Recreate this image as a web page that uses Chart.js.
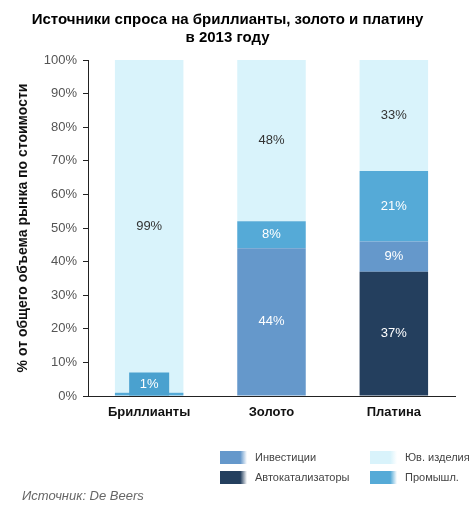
<!DOCTYPE html>
<html>
<head>
<meta charset="utf-8">
<script src="https://cdn.jsdelivr.net/npm/chart.js@4"></script>
<style>
  html, body { margin: 0; padding: 0; background: #fff; }
  #wrap { position: relative; width: 473px; height: 521px; }
  #legend {
    position: absolute; left: 220px; top: 447px;
    display: grid; grid-template-columns: 150px 110px;
    grid-template-rows: 20px 20px; grid-auto-flow: column;
    font: 11px "Liberation Sans", Arial, sans-serif; color: #444;
  }
  #legend div { display: flex; align-items: center; }
  #legend span { display: inline-block; width: 27px; height: 13px; margin-right: 8px; }
  #source {
    position: absolute; left: 22px; top: 488px;
    font: italic 13px "Liberation Sans", Arial, sans-serif; color: #666;
  }
</style>
</head>
<body>
<div id="wrap">
  <canvas id="chart" width="473" height="521"></canvas>
  <div id="legend"></div>
  <div id="source">Источник: De Beers</div>
</div>
<script>
// Данные графика
const categories = ['Бриллианты', 'Золото', 'Платина']
const autocatalysts = [0, 0, 37]
const investment = [0, 44, 9]
const industrial = [1, 8, 21]
const jewelry = [99, 48, 33]
const yTicks = [0, 10, 20, 30, 40, 50, 60, 70, 80, 90, 100]

const colors = {
  auto: '#243f5e',
  invest: '#6598cb',
  industrial: '#55aad7',
  jewelry: '#d9f3fb',
}

const datasets = [
  { label: 'Автокатализаторы', data: autocatalysts, backgroundColor: colors.auto, labelColor: '#fff' },
  { label: 'Инвестиции', data: investment, backgroundColor: colors.invest, labelColor: '#fff' },
  { label: 'Промышл.', data: industrial, backgroundColor: colors.industrial, labelColor: '#fff' },
  { label: 'Юв. изделия', data: jewelry, backgroundColor: colors.jewelry, labelColor: '#333' },
]

// Подписи значений внутри сегментов
const segmentLabels = {
  id: 'segmentLabels',
  afterDatasetsDraw(chart) {
    const ctx = chart.ctx
    ctx.save()
    ctx.font = '13px "Liberation Sans", Arial, sans-serif'
    ctx.textAlign = 'center'
    ctx.textBaseline = 'middle'
    chart.data.datasets.forEach((ds, i) => {
      const meta = chart.getDatasetMeta(i)
      meta.data.forEach((bar, j) => {
        const value = ds.data[j]
        if (!value) return
        const { x, y, base } = bar.getProps(['x', 'y', 'base'], true)
        let cy = (y + base) / 2
        if (base - y < 18) {
          // Маленький сегмент: подпись в отдельной плашке
          ctx.fillStyle = '#4aa1cf'
          ctx.fillRect(x - 20, base - 23, 40, 23)
          cy = base - 11
        }
        ctx.fillStyle = ds.labelColor
        ctx.fillText(value + '%', x, cy)
      })
    })
    ctx.restore()
  },
}

new Chart(document.getElementById('chart'), {
  type: 'bar',
  data: { labels: categories, datasets: datasets },
  options: {
    responsive: false,
    animation: false,
    layout: { padding: { left: 0, right: 18, top: 0, bottom: 0 } },
    datasets: { bar: { barPercentage: 0.56, categoryPercentage: 1 } },
    plugins: {
      legend: { display: false },
      tooltip: { enabled: false },
      title: {
        display: true,
        text: ['Источники спроса на бриллианты, золото и платину', 'в 2013 году'],
        color: '#000',
        font: { family: '"Liberation Sans", Arial, sans-serif', size: 15, weight: 'bold', lineHeight: 1.2 },
        padding: { top: 11, bottom: 13 },
      },
    },
    scales: {
      x: {
        stacked: true,
        grid: { display: false },
        border: { display: true, color: '#222', width: 1 },
        ticks: {
          color: '#111',
          padding: 1,
          font: { family: '"Liberation Sans", Arial, sans-serif', size: 13, weight: 'bold' },
        },
        afterFit(scale) { scale.height = 125 },
      },
      y: {
        stacked: true,
        min: 0,
        max: 100,
        afterBuildTicks(scale) { scale.ticks = yTicks.map((v) => ({ value: v })) },
        grid: { drawOnChartArea: false, drawTicks: true, tickLength: 5, color: '#222' },
        border: { display: true, color: '#222', width: 1 },
        ticks: {
          color: '#555',
          padding: 6,
          font: { family: '"Liberation Sans", Arial, sans-serif', size: 13 },
          callback: (v) => v + '%',
        },
        title: {
          display: true,
          text: '% от общего объема рынка по стоимости',
          color: '#111',
          font: { family: '"Liberation Sans", Arial, sans-serif', size: 14, weight: 'bold' },
          padding: { top: 15, bottom: 0 },
        },
        afterFit(scale) { scale.width = 88 },
      },
    },
  },
  plugins: [segmentLabels],
})

// Легенда в две колонки
const legendOrder = [1, 0, 3, 2]
const legend = document.getElementById('legend')
legendOrder.forEach((i) => {
  const ds = datasets[i]
  const item = document.createElement('div')
  const sw = document.createElement('span')
  sw.style.background = 'linear-gradient(to right, ' + ds.backgroundColor + ' 75%, #fff)'
  item.appendChild(sw)
  item.appendChild(document.createTextNode(ds.label))
  legend.appendChild(item)
})
</script>
</body>
</html>
